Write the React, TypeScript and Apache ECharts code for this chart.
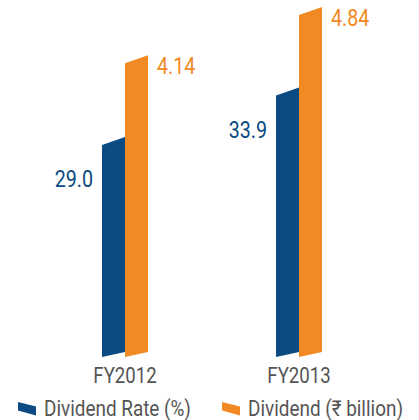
import React, { useEffect, useRef } from "react";
import * as echarts from "echarts";

const categories = ["FY2012", "FY2013"];
const rateValues = [29.0, 33.9];
const dividendValues = [4.14, 4.84];
const rateLabels = ["29.0", "33.9"];
const dividendLabels = ["4.14", "4.84"];
const seriesNames = ["Dividend Rate (%)", "Dividend (₹ billion)"];

const BLUE = "#0b4a82";
const ORANGE = "#f28a24";
const GREY = "#555555";
const FONT = "Roboto, 'DejaVu Sans Condensed', sans-serif";
const SQUEEZE = 0.82;

const RATE_MIN = 7.93;
const RATE_MAX = 42.7;
const DIV_MIN = -0.117;
const DIV_MAX = 4.955;

const BAR_W = 23;
const TOP_SLANT = 8;
const BOTTOM_SLANT = 5;

function squeezedText(
  text: string,
  x: number,
  y: number,
  align: string,
  color: string,
  size: number,
  sx = SQUEEZE,
  lineHeight?: number
) {
  const style: any = {
    text,
    x: 0,
    y: 0,
    align,
    verticalAlign: "middle",
    fill: color,
    fontSize: size,
    fontFamily: FONT,
  };
  if (lineHeight) style.lineHeight = lineHeight;
  return { type: "text", x, y, scaleX: sx, style };
}

function makeRender(side: "left" | "right", axisMin: number, labels: string[], color: string, withCategory: boolean) {
  return (params: any, api: any) => {
    const cat = api.value(0);
    const v = api.value(1);
    const top = api.coord([cat, v]);
    const base = api.coord([cat, axisMin]);
    const cx = top[0];
    const x0 = side === "left" ? cx - BAR_W : cx;
    const x1 = side === "left" ? cx : cx + BAR_W;
    const points = [
      [x0, base[1]],
      [x0, top[1]],
      [x1, top[1] - TOP_SLANT],
      [x1, base[1] - BOTTOM_SLANT],
    ];
    const label = labels[params.dataIndex];
    const children: any[] = [
      { type: "polygon", shape: { points }, style: { fill: color } },
      side === "left"
        ? squeezedText(label, x0 - 9, top[1] + 34, "right", color, 24)
        : squeezedText(label, x1 + 9, top[1] + 2.5, "left", color, 24),
    ];
    if (withCategory) {
      children.push(squeezedText(categories[params.dataIndex], cx, base[1] + 18, "center", GREY, 23, 0.81));
    }
    return { type: "group", children };
  };
}

function legendItem(x: number, y: number, color: string, name: string) {
  return {
    type: "group",
    x,
    y,
    children: [
      {
        type: "polygon",
        shape: { points: [[0, 0], [18, 4.5], [18, 13.5], [0, 8.5]] },
        style: { fill: color },
      },
      squeezedText(name, 26, 6.5, "left", GREY, 22, 0.86, 18),
    ],
  };
}

export default function App() {
  const ref = useRef<HTMLDivElement>(null);
  useEffect(() => {
    if (!ref.current) return;
    const chart = echarts.init(ref.current, null, { renderer: "svg" });
    chart.setOption({
      animation: false,
      backgroundColor: "#ffffff",
      grid: { left: 38, right: 33, top: 7, bottom: 63, containLabel: false },
      xAxis: {
        type: "category",
        data: categories,
        axisLine: { show: false },
        axisTick: { show: false },
        axisLabel: { show: false },
      },
      yAxis: [
        { type: "value", min: RATE_MIN, max: RATE_MAX, show: false, splitLine: { show: false } },
        { type: "value", min: DIV_MIN, max: DIV_MAX, show: false, splitLine: { show: false } },
      ],
      graphic: [
        legendItem(18, 402, BLUE, seriesNames[0]),
        legendItem(222, 402, ORANGE, seriesNames[1]),
      ],
      series: [
        {
          name: seriesNames[0],
          type: "custom",
          yAxisIndex: 0,
          clip: false,
          itemStyle: { color: BLUE },
          renderItem: makeRender("left", RATE_MIN, rateLabels, BLUE, true),
          data: rateValues.map((v, i) => [i, v]),
        },
        {
          name: seriesNames[1],
          type: "custom",
          yAxisIndex: 1,
          clip: false,
          itemStyle: { color: ORANGE },
          renderItem: makeRender("right", DIV_MIN, dividendLabels, ORANGE, false),
          data: dividendValues.map((v, i) => [i, v]),
        },
      ],
    });
    return () => chart.dispose();
  }, []);
  return (
    <div
      ref={ref}
      style={{ position: "fixed", left: 0, top: 0, width: 419, height: 420, overflow: "hidden" }}
    />
  );
}
